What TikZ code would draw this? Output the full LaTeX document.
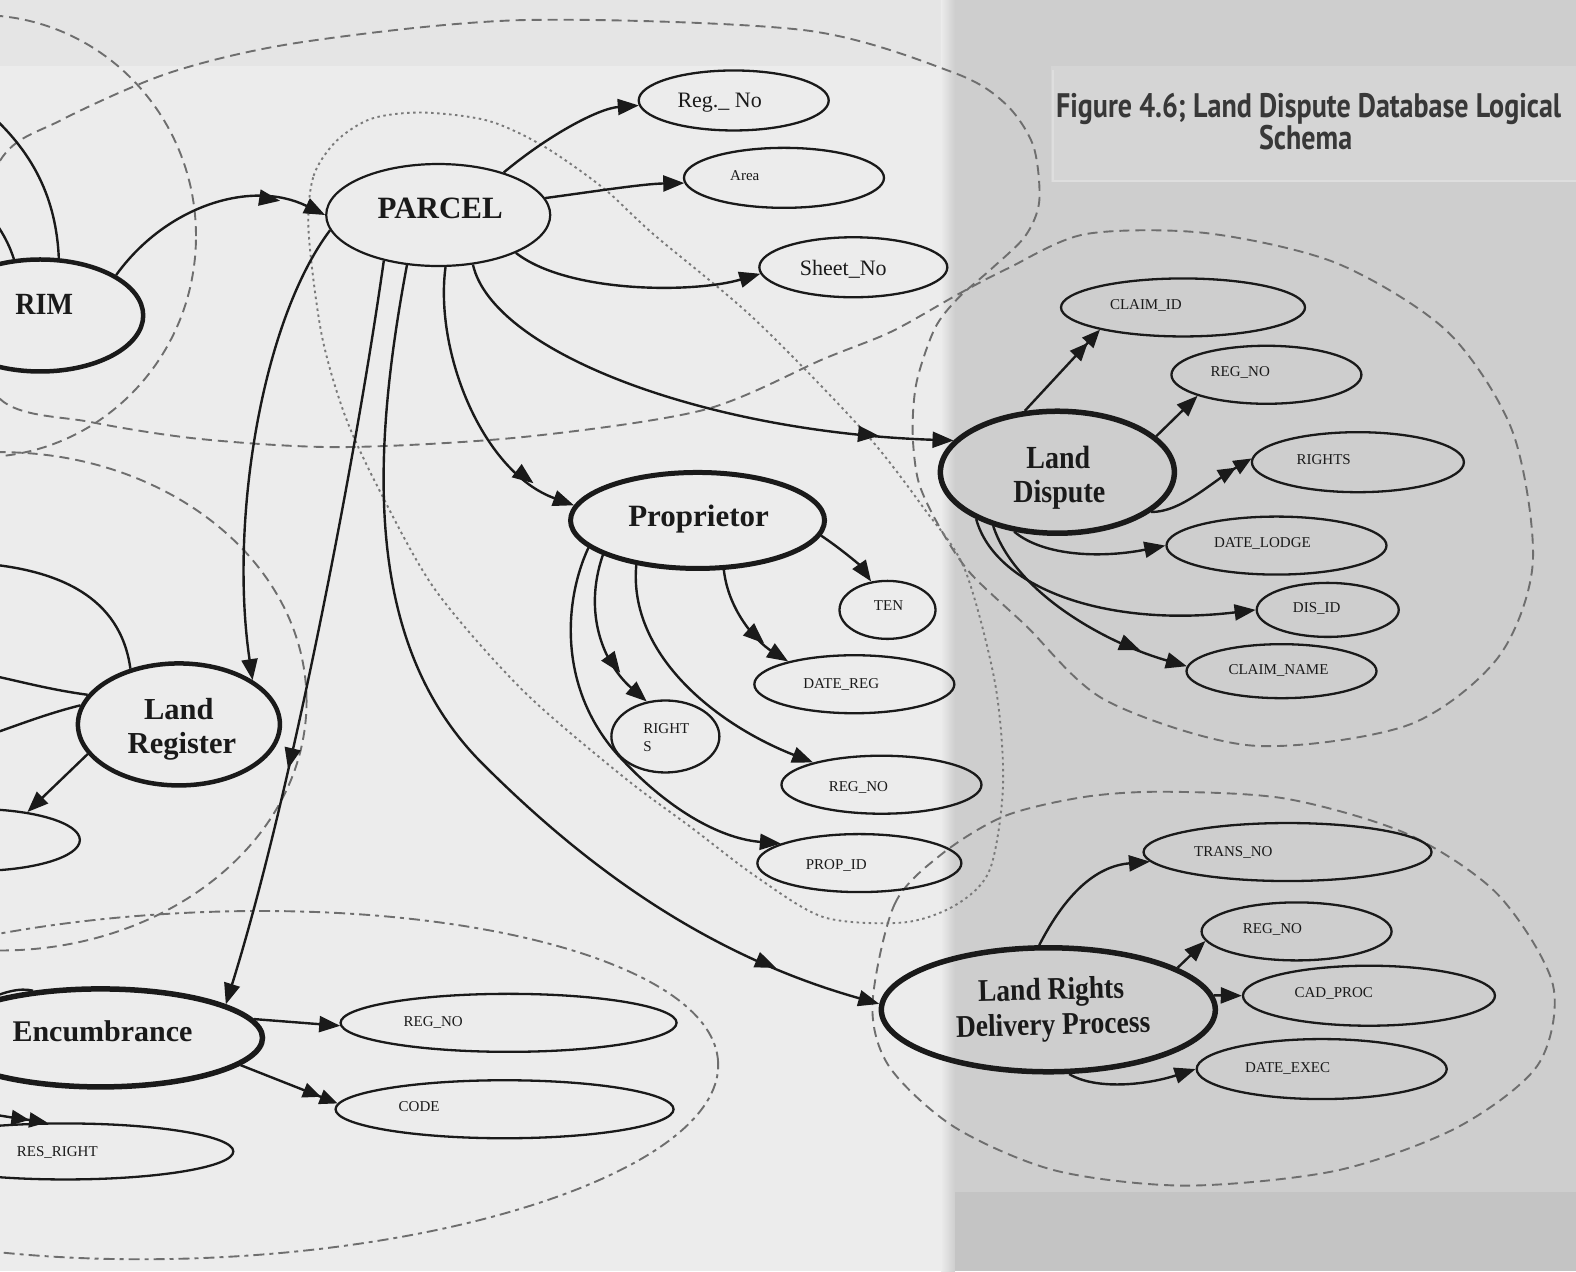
\documentclass[tikz,border=0pt]{standalone}
\usepackage{fontspec}
\setmainfont{Liberation Serif}
\newfontfamily\titlefont{PT Sans}
\usetikzlibrary{shapes.geometric,arrows.meta,decorations.markings}
\definecolor{ink}{HTML}{1A1A1A}
\definecolor{paperL}{HTML}{ECECEC}
\definecolor{paperT}{HTML}{E5E5E5}
\definecolor{paperR}{HTML}{CECECE}
\definecolor{paperRB}{HTML}{C4C4C4}
\definecolor{titlebg}{HTML}{D5D5D5}
\definecolor{titleedge}{HTML}{DEDEDE}
\definecolor{grp}{HTML}{6E6E6E}
\definecolor{grpdot}{HTML}{7A7A7A}
\definecolor{titleink}{HTML}{383838}
\newlength\titlew
\begin{document}
\settowidth\titlew{\titlefont\bfseries\fontsize{34}{40}\selectfont Figure 4.6; Land Dispute Database Logical}%
\pgfmathsetmacro\tsx{505/\titlew}%
\begin{tikzpicture}[x=1.0051pt,y=1.00474pt,
  attr/.style={ellipse,draw=ink,line width=2.3pt,inner sep=0pt},
  ent/.style={ellipse,draw=ink,line width=5pt,inner sep=0pt},
  big/.style={anchor=base,inner sep=0pt,text=ink,font=\fontsize{30}{35}\selectfont\bfseries},
  small/.style={anchor=base,inner sep=0pt,text=ink,font=\fontsize{15}{17}\selectfont},
  medium/.style={anchor=base,inner sep=0pt,text=ink,font=\fontsize{22}{26}\selectfont},
  link/.style={color=ink,line width=2.4pt},
  arr/.style={link,-{Triangle[length=21pt,width=16pt]}},
  twotip/.style={link,-{Triangle[length=18pt,width=15pt]Triangle[length=18pt,width=15pt]}},
  midtip/.style={postaction={decorate,decoration={markings,mark=at position #1 with {\arrow{Triangle[length=21pt,width=16pt]}}}}},
  grpline/.style={draw=grp,line width=1.9pt,dash pattern=on 10pt off 6pt},
  grpdashdot/.style={draw=grp,line width=1.9pt,dash pattern=on 11pt off 5pt on 4pt off 5pt},
  grpdotted/.style={draw=grpdot,line width=1.9pt,dash pattern=on 2.5pt off 3.5pt}
]
\useasboundingbox (0,0) rectangle (1568,-1265);
\clip (0,0) rectangle (1568,-1265);

% paper: two scanned sheets
\fill[paperL] (0,0) rectangle (948,-1265);
\fill[paperT] (0,0) rectangle (948,-66);
\fill[paperR] (948,0) rectangle (1568,-1265);
\shade[left color=paperL,right color=paperR] (936,0) rectangle (950,-1265);
\fill[paperRB] (950,-1186) rectangle (1568,-1265);
\fill[titlebg] (1046,-66) rectangle (1568,-181);
\draw[titleedge,line width=2pt] (1048,-70) -- (1048,-180) -- (1568,-180);

% title
\node[anchor=base,inner sep=0pt,text=titleink,font=\titlefont\bfseries\fontsize{34}{40}\selectfont]
  (title1) at (1302,-117) {\scalebox{\tsx}[1]{Figure 4.6; Land Dispute Database Logical}};
\node[anchor=base,inner sep=0pt,text=titleink,font=\titlefont\bfseries\fontsize{34}{40}\selectfont]
  (title2) at (1299,-149) {\scalebox{\tsx}[1]{Schema}};

% group outlines
\draw[grpline] (-20,-235) ellipse [x radius=215, y radius=220];
\draw[grpline] plot[smooth cycle] coordinates {
  (-45,-290) (0,-160) (60,-120) (170,-72) (300,-42) (520,-20) (800,-30) (948,-72)
  (1000,-103) (1028,-145) (1034,-200) (1020,-235) (987,-267) (953,-297) (930,-327)
  (912,-380) (908,-430) (914,-480) (935,-525) (965,-570) (1020,-622) (1100,-697)
  (1245,-742) (1400,-722) (1490,-655) (1525,-560) (1505,-430) (1440,-330) (1330,-262)
  (1200,-232) (1080,-233) (1003,-267) (953,-293) (887,-330) (820,-357) (700,-408)
  (520,-435) (340,-445) (200,-437) (90,-420) (0,-397)};
\draw[grpdotted] plot[smooth cycle] coordinates {
  (307,-230) (312,-175) (335,-140) (370,-118) (420,-112) (485,-120) (540,-145)
  (600,-187) (650,-233) (750,-317) (860,-430) (920,-507) (960,-567) (990,-680)
  (998,-780) (985,-865) (952,-900) (900,-918) (820,-913) (753,-873) (687,-823)
  (620,-773) (520,-687) (433,-587) (377,-487) (343,-413) (320,-333)};
\draw[grpline] (0,-698) ellipse [x radius=305, y radius=248];
\draw[grpdashdot,rotate around={2.5:(200,-1080)}] (200,-1080) ellipse [x radius=515, y radius=172];
\draw[grpline] plot[smooth cycle] coordinates {
  (868,-1000) (890,-900) (937,-850) (1000,-812) (1080,-793) (1160,-788) (1280,-795)
  (1400,-830) (1490,-890) (1545,-980) (1530,-1060) (1450,-1122) (1330,-1165)
  (1180,-1180) (1050,-1165) (950,-1122) (885,-1062)};

% entities
\node[ent,line width=4.5pt,minimum width=206pt,minimum height=112pt] (rim) at (40,-314) {};
\node[ent,line width=2.2pt,minimum width=224pt,minimum height=102pt] (parcel) at (436,-214) {};
\node[ent,minimum width=254pt,minimum height=96pt] (prop) at (694,-518) {};
\node[ent,line width=5.5pt,minimum width=234pt,minimum height=122pt] (dispute) at (1052,-470) {};
\node[ent,line width=4.5pt,minimum width=202pt,minimum height=122pt] (register) at (178,-721) {};
\node[ent,line width=5.5pt,minimum width=324pt,minimum height=98pt] (encum) at (100,-1033) {};
\node[ent,line width=5.5pt,minimum width=334pt,minimum height=124pt] (lrdp) at (1043,-1005) {};

% attributes
\node[attr,minimum width=190pt,minimum height=60pt] (regA) at (730,-100) {};
\node[attr,minimum width=200pt,minimum height=60pt] (area) at (780,-177) {};
\node[attr,minimum width=188pt,minimum height=60pt] (sheet) at (849,-266) {};
\node[attr,minimum width=244pt,minimum height=58pt] (claimid) at (1177,-306) {};
\node[attr,minimum width=190pt,minimum height=58pt] (dregno) at (1260,-373) {};
\node[attr,minimum width=212pt,minimum height=60pt] (drights) at (1351,-460) {};
\node[attr,minimum width=220pt,minimum height=58pt] (datelodge) at (1270,-543) {};
\node[attr,minimum width=142pt,minimum height=54pt] (disid) at (1321,-607) {};
\node[attr,minimum width=190pt,minimum height=54pt] (claimname) at (1275,-668) {};
\node[attr,minimum width=96pt,minimum height=58pt] (ten) at (883,-607) {};
\node[attr,minimum width=200pt,minimum height=58pt] (datereg) at (850,-681) {};
\node[attr,minimum width=108pt,minimum height=72pt] (prights) at (662,-733) {};
\node[attr,minimum width=200pt,minimum height=58pt] (pregno) at (877,-781) {};
\node[attr,minimum width=204pt,minimum height=58pt] (propid) at (855,-859) {};
\node[attr,minimum width=210pt,minimum height=62pt] (regattr) at (-25,-836) {};
\node[attr,minimum width=336pt,minimum height=58pt] (eregno) at (506,-1018) {};
\node[attr,minimum width=338pt,minimum height=58pt] (code) at (502,-1104) {};
\node[attr,minimum width=336pt,minimum height=56pt] (resright) at (65,-1146) {};
\node[attr,minimum width=288pt,minimum height=58pt] (transno) at (1281,-848) {};
\node[attr,minimum width=190pt,minimum height=58pt] (lregno) at (1290,-927) {};
\node[attr,minimum width=252pt,minimum height=60pt] (cadproc) at (1362,-991) {};
\node[attr,minimum width=250pt,minimum height=60pt] (dateexec) at (1315,-1064) {};

% labels
\node[big,font=\fontsize{28}{33}\selectfont\bfseries] (rimT) at (44,-313) {\scalebox{1}[1.1]{RIM}};
\node[big,font=\fontsize{31}{36}\selectfont\bfseries] (parcelT) at (438,-217) {PARCEL};
\node[big,font=\fontsize{31}{36}\selectfont\bfseries] (propT) at (695,-524) {Proprietor};
\node[big,font=\fontsize{28}{33}\selectfont\bfseries] (disputeT1) at (1053,-466) {\scalebox{1}[1.15]{Land}};
\node[big,font=\fontsize{28}{33}\selectfont\bfseries] (disputeT2) at (1054,-500) {\scalebox{1}[1.15]{Dispute}};
\node[big,font=\fontsize{30.5}{36}\selectfont\bfseries] (registerT1) at (178,-716) {Land};
\node[big,font=\fontsize{30.5}{36}\selectfont\bfseries] (registerT2) at (181,-750) {Register};
\node[big] (encumT) at (102,-1037) {Encumbrance};
\node[big,font=\fontsize{27.5}{33}\selectfont\bfseries,rotate=1.5] (lrdpT1) at (1046,-995) {\scalebox{1}[1.15]{Land Rights}};
\node[big,font=\fontsize{27.5}{33}\selectfont\bfseries,rotate=1.5] (lrdpT2) at (1048,-1030) {\scalebox{1}[1.15]{Delivery Process}};

\node[medium] (regAT) at (716,-107) {Reg.\_ No};
\node[small] (areaT) at (741,-180) {Area};
\node[medium] (sheetT) at (839,-274) {Sheet\_No};
\node[small] (claimidT) at (1140,-308) {CLAIM\_ID};
\node[small] (dregnoT) at (1234,-375) {REG\_NO};
\node[small] (drightsT) at (1317,-462) {RIGHTS};
\node[small] (datelodgeT) at (1256,-545) {DATE\_LODGE};
\node[small] (disidT) at (1310,-610) {DIS\_ID};
\node[small] (claimnameT) at (1272,-671) {CLAIM\_NAME};
\node[small] (tenT) at (884,-608) {TEN};
\node[small] (dateregT) at (837,-685) {DATE\_REG};
\node[small,anchor=base west] (prightsT1) at (640,-730) {RIGHT};
\node[small,anchor=base west] (prightsT2) at (640,-748) {S};
\node[small] (pregnoT) at (854,-788) {REG\_NO};
\node[small] (propidT) at (832,-865) {PROP\_ID};
\node[small] (eregnoT) at (431,-1022) {REG\_NO};
\node[small] (codeT) at (417,-1106) {CODE};
\node[small] (resrightT) at (57,-1151) {RES\_RIGHT};
\node[small] (transnoT) at (1227,-852) {TRANS\_NO};
\node[small] (lregnoT) at (1266,-929) {REG\_NO};
\node[small] (cadprocT) at (1327,-993) {CAD\_PROC};
\node[small] (dateexecT) at (1281,-1067) {DATE\_EXEC};

% loose ends leading to entities beyond the sheet edge
\coordinate (rimA) at (-25,-195);
\coordinate (rimB) at (-20,-105);
\coordinate (lrA) at (-30,-560);
\coordinate (lrB) at (-30,-668);
\coordinate (lrC) at (-30,-738);
\coordinate (encA) at (-25,-1000);
\coordinate (resA) at (-25,-1106);

% relationships from PARCEL
\draw[arr,midtip=0.8] (rim.28) .. controls (165,-205) and (250,-178) .. (parcel.180);
\draw[arr] (parcel.33) .. controls (545,-135) and (595,-108) .. (regA.183);
\draw[arr] (parcel.9) .. controls (595,-190) and (640,-183) .. (area.183);
\draw[arr] (parcel.-26) .. controls (565,-292) and (690,-292) .. (sheet.184);
\draw[arr,midtip=0.86] (parcel.-55) .. controls (490,-350) and (700,-430) .. (dispute.163);
\draw[arr,midtip=0.84] (parcel.-82) .. controls (432,-350) and (480,-470) .. (prop.173);
\draw[arr,midtip=0.89] (parcel.-122) .. controls (370,-450) and (360,-640) .. (480,-760)
  .. controls (580,-860) and (700,-950) .. (lrdp.178);
\draw[arr,midtip=0.68] (parcel.-140) .. controls (355,-450) and (290,-790) .. (encum.15);
\draw[arr] (parcel.-172) .. controls (260,-320) and (228,-520) .. (register.31);

% Land Register and RIM side
\draw[arr] (register.-162) -- (regattr.28);
\draw[link] (register.131) .. controls (120,-595) and (60,-565) .. (lrA);
\draw[link] (register.162) .. controls (40,-685) and (10,-675) .. (lrB);
\draw[link] (register.169) .. controls (40,-712) and (10,-725) .. (lrC);
\draw[link] (rim.115) .. controls (8,-240) and (0,-225) .. (rimA);
\draw[link] (rim.72) .. controls (56,-200) and (35,-150) .. (rimB);

% Encumbrance
\draw[link] (encA) .. controls (5,-986) and (20,-983) .. (encum.145);
\draw[twotip] (resA) .. controls (10,-1112) .. (resright.122);
\draw[arr] (encum.7) -- (eregno.181);
\draw[twotip] (encum.-11) -- (code.178);

% Proprietor
\draw[arr] (prop.-7) .. controls (835,-545) and (855,-562) .. (ten.120);
\draw[arr,midtip=0.74] (prop.-62) .. controls (725,-610) and (755,-640) .. (datereg.161);
\draw[arr,midtip=0.76] (prop.-160) .. controls (580,-610) and (600,-660) .. (prights.118);
\draw[arr] (prop.-144) .. controls (625,-650) and (710,-720) .. (pregno.162);
\draw[arr] (prop.-166) .. controls (560,-600) and (555,-690) .. (620,-757)
  .. controls (670,-810) and (720,-835) .. (propid.166);

% Land Dispute
\draw[twotip] (dispute.118) -- (claimid.-165);
\draw[arr] (dispute.20) -- (dregno.-163);
\draw[twotip] (dispute.-23) .. controls (1175,-510) and (1205,-480) .. (drights.178);
\draw[arr] (dispute.-126) .. controls (1040,-555) and (1100,-555) .. (datelodge.180);
\draw[arr] (dispute.-150) .. controls (990,-585) and (1100,-625) .. (disid.180);
\draw[arr,midtip=0.8] (dispute.-140) .. controls (1010,-590) and (1100,-640) .. (claimname.177);

% Land Rights Delivery Process
\draw[arr] (lrdp.98) .. controls (1060,-890) and (1090,-862) .. (transno.184);
\draw[arr] (lrdp.18) -- (lregno.186);
\draw[arr] (lrdp.5) -- (cadproc.180);
\draw[arr] (lrdp.-72) .. controls (1090,-1085) and (1140,-1080) .. (dateexec.180);
\end{tikzpicture}
\end{document}
